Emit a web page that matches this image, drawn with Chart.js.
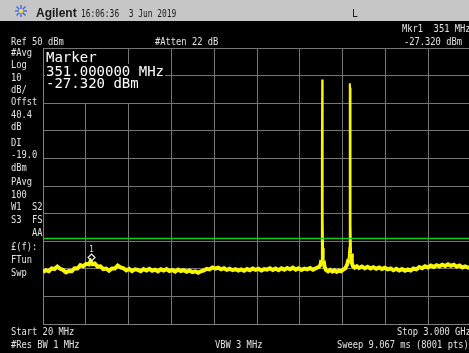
<!DOCTYPE html>
<html><head><meta charset="utf-8">
<script src="https://cdn.jsdelivr.net/npm/chart.js@4/dist/chart.umd.min.js"></script>
<style>
html,body{margin:0;padding:0;background:#000;overflow:hidden;width:469px;height:353px;}
#wrap{position:relative;width:469px;height:353px;overflow:hidden;background:#000;}
#hdr{position:absolute;left:0;top:0;width:469px;height:21px;background:#c6c6c6;}
#cv{position:absolute;left:0;top:0;}
.t{position:absolute;white-space:pre;font-family:'DejaVu Sans Mono',monospace;color:#e4e4e4;transform-origin:0 0;}
.bx{position:absolute;background:#000;}
</style></head>
<body><div id="wrap"><div id="hdr"></div><canvas id="cv" width="480" height="353"></canvas></div>
<script>
// ---- data ----
const freqMHz = [20,40,60,80,100,120,140,160,180,200,220,240,260,280,300,320,340,351,365,380,400,420,440,460,480,500,520,540,560,580,600,620,640,660,680,700,720,740,760,780,800,820,840,860,880,900,920,940,960,980,1000,1020,1040,1060,1080,1100,1120,1140,1160,1180,1200,1220,1240,1260,1280,1300,1320,1340,1360,1380,1400,1420,1440,1460,1480,1500,1520,1540,1560,1580,1600,1620,1640,1660,1680,1700,1720,1740,1760,1780,1800,1820,1840,1860,1880,1900,1920,1940,1952,1958,1961,1962.5,1964,1965.5,1967,1968.5,1970,1974,1980,1990,2005,2020,2035,2050,2065,2080,2095,2110,2125,2138,2148,2153,2155,2157,2158.5,2160,2162,2165,2170,2178,2190,2205,2220,2240,2260,2280,2300,2320,2340,2360,2380,2400,2420,2440,2460,2480,2500,2520,2540,2560,2580,2600,2620,2640,2660,2680,2700,2720,2740,2760,2780,2800,2820,2840,2860,2880,2900,2920,2940,2960,2980,3000];
const traceDbm = [-31.2,-30.5,-30.9,-29.9,-30.1,-29.2,-30.0,-30.4,-31.3,-30.8,-30.9,-29.8,-29.9,-28.7,-29.1,-28.2,-28.4,-27.3,-28.3,-28.1,-29.2,-29.1,-30.1,-29.9,-30.7,-29.9,-29.9,-28.8,-29.5,-29.8,-30.6,-30.0,-30.8,-30.2,-30.4,-30.9,-30.1,-30.6,-30.0,-30.7,-30.3,-30.9,-30.2,-30.6,-30.1,-30.8,-30.4,-31.0,-30.3,-30.8,-30.5,-31.1,-30.6,-31.2,-30.9,-31.4,-30.9,-30.6,-30.0,-30.2,-29.5,-29.9,-29.6,-30.2,-29.8,-30.4,-30.0,-30.5,-30.1,-30.6,-30.2,-30.7,-30.1,-30.5,-29.9,-30.4,-30.0,-30.6,-30.1,-30.3,-29.8,-30.4,-29.9,-30.5,-29.8,-30.3,-29.7,-30.2,-29.6,-30.3,-29.8,-30.4,-29.9,-30.2,-29.7,-30.3,-29.8,-29.4,-28.6,-26.8,-22.0,12.0,38.6,30.0,-10.0,-11.5,-22.5,-27.0,-29.2,-30.4,-30.9,-30.4,-31.0,-30.5,-31.1,-30.6,-30.9,-30.3,-29.8,-28.4,-26.5,-22.5,14.0,37.2,35.5,8.0,-14.0,-24.5,-27.8,-29.0,-29.6,-29.1,-29.7,-29.2,-29.8,-29.3,-29.9,-29.4,-30.0,-29.5,-30.1,-29.6,-30.2,-29.9,-30.5,-30.0,-30.6,-30.1,-30.7,-30.2,-30.6,-29.9,-30.2,-29.4,-29.8,-29.1,-29.5,-28.8,-29.3,-28.7,-29.1,-28.5,-29.0,-28.4,-28.9,-28.5,-29.2,-28.8,-29.5,-29.1,-29.6,-29.3];
const startMHz = 20, stopMHz = 3000, refLevelDbm = 50, bottomDbm = -50, dbPerDiv = 10;
const displayLineDbm = -19.0;
const markerFreqMHz = 351, markerDbm = -27.32;

const wrap = document.getElementById('wrap');
function put(txt, x, base, o) {
  o = o || {};
  const d = document.createElement('div');
  d.className = 't';
  d.textContent = txt;
  const fs = o.fs || 10, sx = o.sx || 0.875, lh = Math.round(fs * 1.2);
  const asc = o.asc || 0.928, desc = o.desc || 0.236;
  d.style.fontSize = fs + 'px';
  d.style.lineHeight = lh + 'px';
  d.style.left = x + 'px';
  d.style.top = (base - ((lh - fs * (asc + desc)) / 2 + fs * asc)) + 'px';
  d.style.transform = 'scaleX(' + sx + ')';
  if (o.color) d.style.color = o.color;
  if (o.font) d.style.fontFamily = o.font;
  if (o.weight) d.style.fontWeight = o.weight;
  wrap.appendChild(d);
}
function box(x, y, w, h) {
  const d = document.createElement('div'); d.className = 'bx';
  d.style.left = x + 'px'; d.style.top = y + 'px'; d.style.width = w + 'px'; d.style.height = h + 'px';
  wrap.appendChild(d);
}

const markerPlugin = {
  id: 'marker',
  afterDatasetsDraw(chart) {
    const c = chart.ctx, xs = chart.scales.x, ys = chart.scales.y;
    const px = Math.round(xs.getPixelForValue(markerFreqMHz)) + 0.5;
    const py = Math.round(ys.getPixelForValue(markerDbm)) - 3.5;
    c.save();
    c.strokeStyle = '#f0f0f0'; c.lineWidth = 1.2;
    c.beginPath();
    c.moveTo(px, py - 3.5); c.lineTo(px + 3.5, py); c.lineTo(px, py + 3.5); c.lineTo(px - 3.5, py); c.closePath();
    c.stroke();
    c.fillStyle = '#dcdcdc';
    c.font = '8px "DejaVu Sans Mono"';
    c.textAlign = 'center'; c.textBaseline = 'alphabetic';
    c.fillText('1', px, py - 5.5);
    c.restore();
  }
};

new Chart(document.getElementById('cv'), {
  type: 'line',
  data: {
    datasets: [
      {
        label: 'Display line',
        data: [{x: startMHz, y: displayLineDbm}, {x: stopMHz, y: displayLineDbm}],
        borderColor: '#1ec81e', borderWidth: 1.5, pointRadius: 0, order: 0
      },
      {
        label: 'Trace',
        data: freqMHz.map((f, i) => ({x: f, y: traceDbm[i]})),
        borderColor: '#f8f800', borderWidth: 4, pointRadius: 0, tension: 0, order: 1,
        segment: {
          borderWidth: ctx => Math.max(ctx.p0.parsed.y, ctx.p1.parsed.y) > -24 ? 2 : 4
        }
      }
    ]
  },
  options: {
    responsive: false, animation: false, events: [],
    layout: {padding: {left: 43, right: 9, top: 48, bottom: 29}},
    plugins: {legend: {display: false}, tooltip: {enabled: false}, title: {display: false}},
    scales: {
      x: {
        type: 'linear', min: startMHz, max: stopMHz,
        ticks: {display: false, stepSize: (stopMHz - startMHz) / 10},
        grid: {color: '#767676', lineWidth: 1, drawTicks: false},
        border: {display: true, color: '#808080'}
      },
      y: {
        type: 'linear', min: bottomDbm, max: refLevelDbm,
        ticks: {display: false, stepSize: dbPerDiv},
        grid: {color: '#767676', lineWidth: 1, drawTicks: false},
        border: {display: true, color: '#808080'}
      }
    }
  },
  plugins: [markerPlugin]
});

// header
const star = document.createElementNS('http://www.w3.org/2000/svg', 'svg');
star.setAttribute('width', '14'); star.setAttribute('height', '14');
star.style.position = 'absolute'; star.style.left = '14px'; star.style.top = '4px';
star.innerHTML = '<g stroke="#3a5ee8" stroke-width="1.3"><line x1="7" y1="1" x2="7" y2="13"/><line x1="1" y1="7" x2="13" y2="7"/><line x1="2.5" y1="2.5" x2="11.5" y2="11.5"/><line x1="11.5" y1="2.5" x2="2.5" y2="11.5"/></g><circle cx="7" cy="7" r="2.2" fill="#f0e040"/>';
wrap.appendChild(star);
put('Agilent', 36, 17, {fs: 12, sx: 1.0, font: '"Liberation Sans", Arial, sans-serif', weight: 'bold', color: '#1a1a1a', asc: 0.905, desc: 0.212});
put('16:06:36  3 Jun 2019', 81, 17.5, {fs: 11, sx: 0.72, color: '#1a1a1a'});
put('L', 352, 17.5, {fs: 11, sx: 0.875, color: '#1a1a1a'});

// top info
put('Ref 50 dBm', 11, 45);
put('#Atten 22 dB', 155, 45);
put('Mkr1  351 MHz', 402, 32);
put('-27.320 dBm', 404, 45);

// left column
const leftCol = [['#Avg', 56], ['Log', 68.5], ['10', 81.5], ['dB/', 93.5], ['Offst', 105], ['40.4', 118.5], ['dB', 130.5], ['DI', 146.5], ['-19.0', 158.5], ['dBm', 171.5], ['PAvg', 185], ['100', 198.5], ['W1  S2', 210.5], ['S3  FS', 223.5], ['£(f):', 250.5], ['FTun', 263.5], ['Swp', 276.5]];
leftCol.forEach(r => put(r[0], 11, r[1]));
put('AA', 31.5, 236.5);

// marker readout block
box(44.5, 49, 52, 15);
box(44.5, 64, 120, 14);
box(44.5, 78, 92, 25);
put('Marker', 46, 62, {fs: 14, sx: 1, color: '#ffffff'});
put('351.000000 MHz', 46, 76, {fs: 14, sx: 1, color: '#ffffff'});
put('-27.320 dBm', 46, 88.5, {fs: 14, sx: 1, color: '#ffffff'});

// bottom
put('Start 20 MHz', 11, 335);
put('Stop 3.000 GHz', 397, 335);
put('#Res BW 1 MHz', 11, 348);
put('VBW 3 MHz', 215, 348);
put('Sweep 9.067 ms (8001 pts)', 337, 348);
</script>
</body></html>
